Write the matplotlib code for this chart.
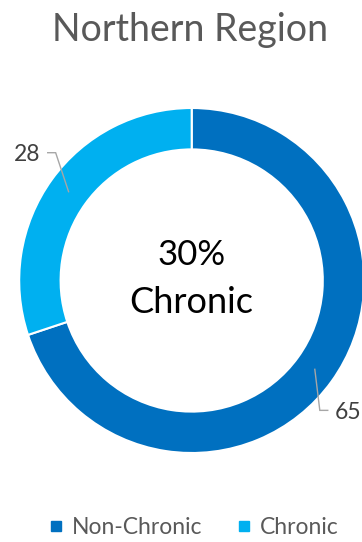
import numpy as np
import matplotlib
matplotlib.use("Agg")
from matplotlib import pyplot as plt
from matplotlib.lines import Line2D

plt.rcParams['font.family'] = ['Lato', 'DejaVu Sans']

title = "Northern Region"
categories = ["Non-Chronic", "Chronic"]
counts = [65, 28]
colors = ["#0070C0", "#00B0F0"]
highlight = "Chronic"

W, H = 362, 542
fig = plt.figure(figsize=(W / 100, H / 100), dpi=100)

# donut geometry in pixels
cx, cy, R = 191.7, 280.5, 172.5
ax = fig.add_axes([(cx - R) / W, (H - cy - R) / H, 2 * R / W, 2 * R / H])
ring = 0.24

wedges, _ = ax.pie(counts, colors=colors, startangle=90, counterclock=False,
                   radius=1.0,
                   wedgeprops=dict(width=ring, edgecolor="white", linewidth=1.5))
ax.set_xlim(-1, 1)
ax.set_ylim(-1, 1)
ax.set_aspect("equal")

# value labels with elbow leader lines
mid_r = 1 - ring / 2
for w, val in zip(wedges, counts):
    ang = np.deg2rad((w.theta1 + w.theta2) / 2)
    x0, y0 = mid_r * np.cos(ang), mid_r * np.sin(ang)
    side = np.sign(np.cos(ang))
    if side < 0:
        ex, ey = x0 - 0.075, y0 + 0.226
    else:
        ex, ey = x0 + 0.029, y0 - 0.238
    tx = ex + side * 0.046
    ax.plot([x0, ex, tx], [y0, ey, ey], color="#A6A6A6", lw=1.0,
            clip_on=False, solid_joinstyle="miter")
    ax.text(tx + side * 0.04, ey - 0.01, str(val), ha="left" if side > 0 else "right",
            va="center", fontsize=16.5, color="#404040", clip_on=False)

pct = counts[categories.index(highlight)] / sum(counts) * 100
ax.text(0, 0.15, f"{pct:.0f}%", ha="center", va="center", fontsize=25, color="black")
ax.text(0, -0.13, highlight, ha="center", va="center", fontsize=26, color="black")

fig.text(0.525, 1 - 30 / H, title, ha="center", va="center",
         fontsize=27, color="#595959")

handles = [Line2D([], [], marker="s", linestyle="none", markersize=7.5,
                  markerfacecolor=c, markeredgecolor=c) for c in colors]
fig.legend(handles, categories, loc="center", bbox_to_anchor=(0.535, 1 - 528 / H),
           ncol=2, frameon=False, fontsize=16.5, labelcolor="#595959",
           handlelength=0.6, handletextpad=0.4, columnspacing=1.5)

fig.savefig("out.png", dpi=100)
